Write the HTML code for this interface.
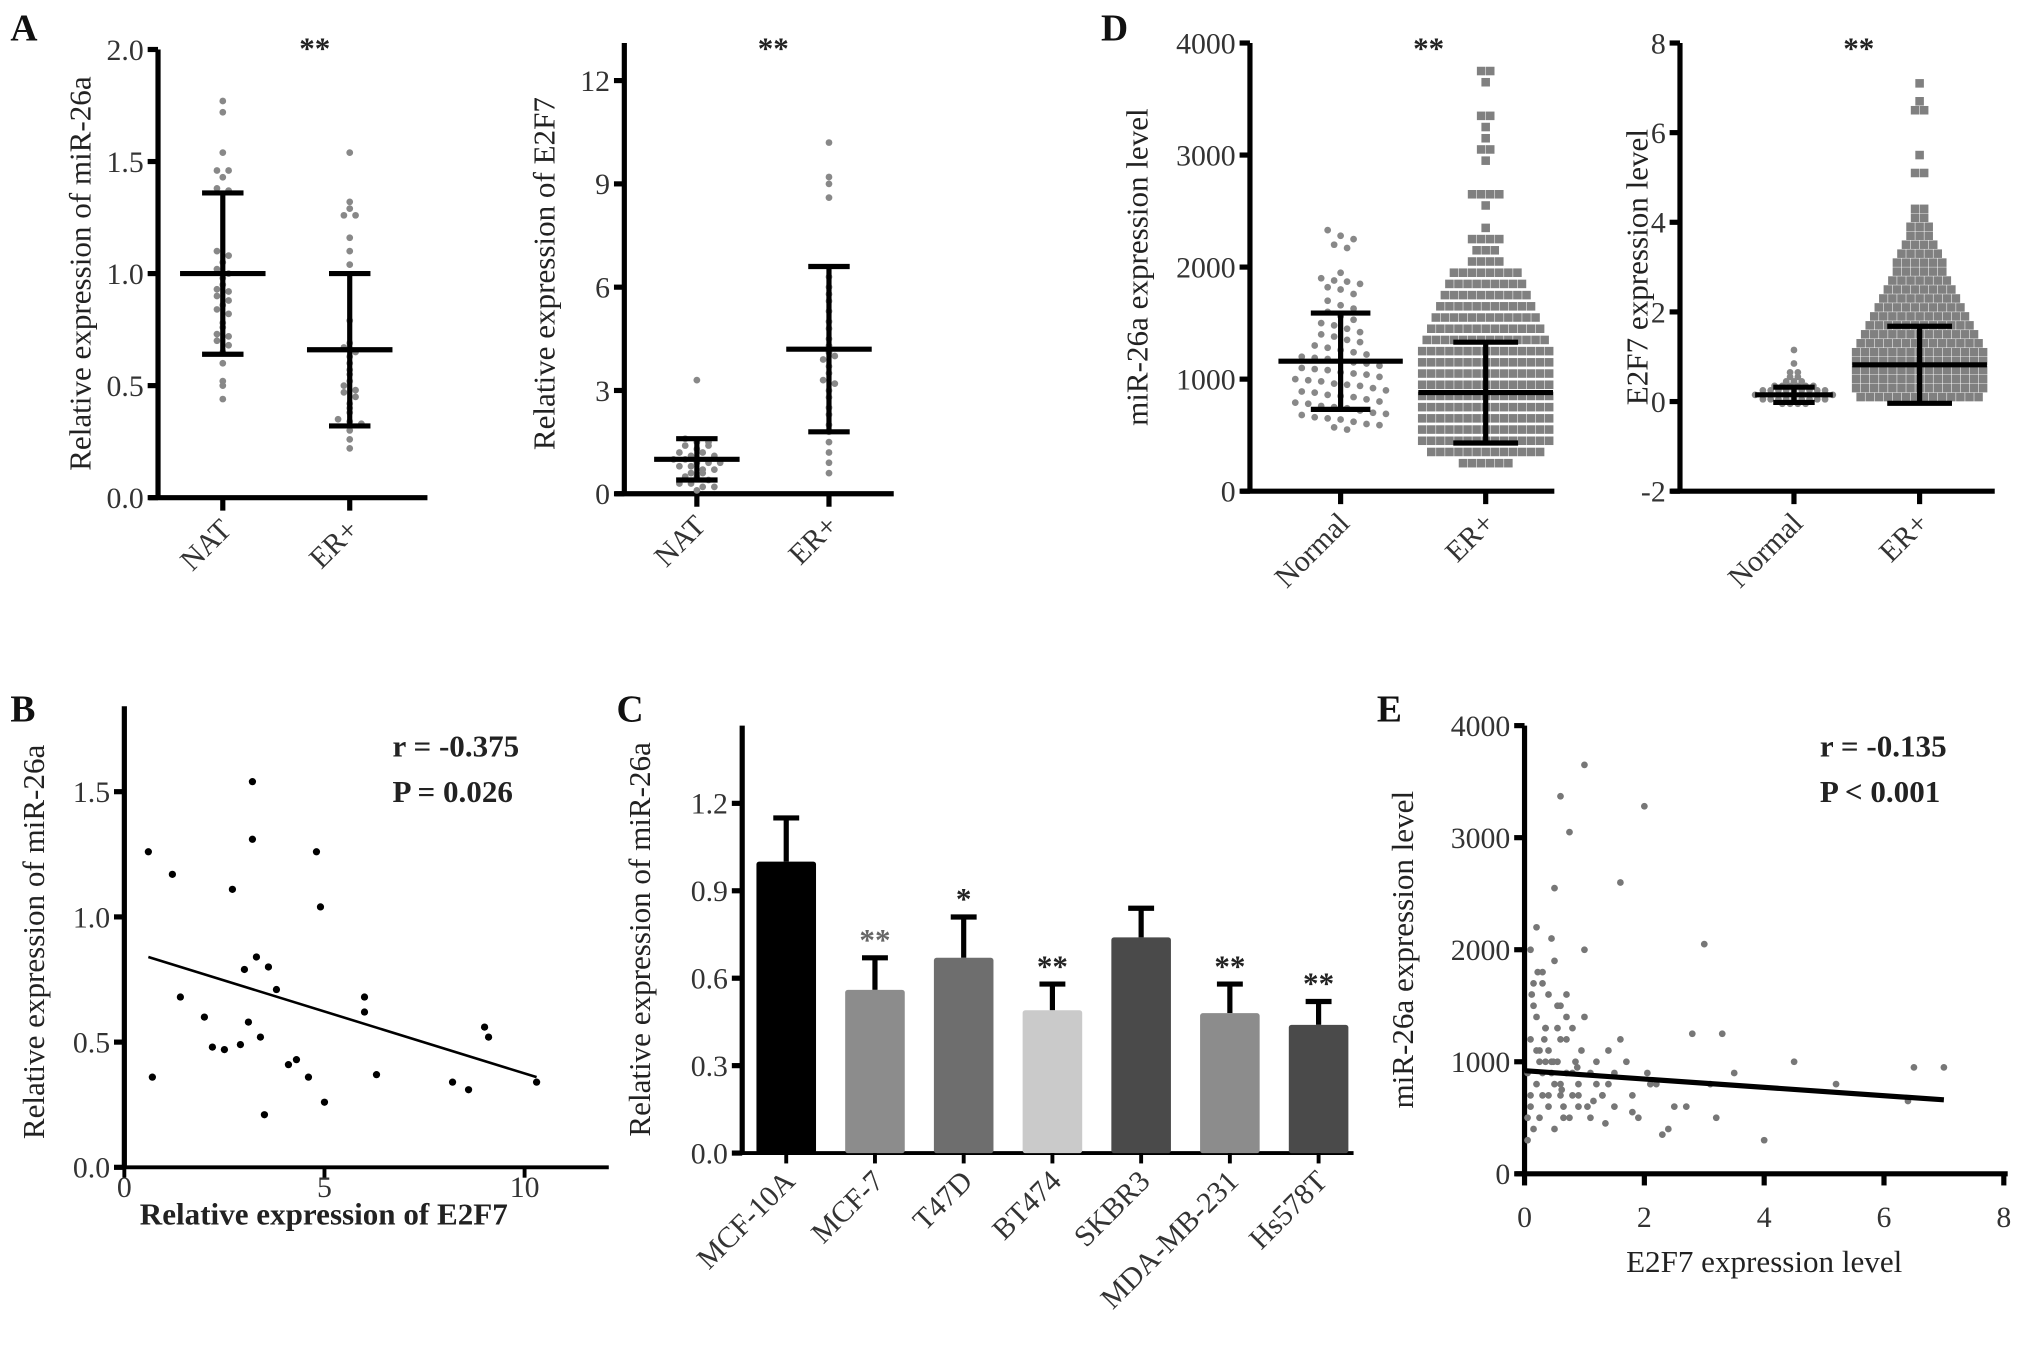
<!DOCTYPE html>
<html><head><meta charset="utf-8"><style>
html,body{margin:0;padding:0;background:#fff;}
svg{display:block;font-family:"Liberation Serif",serif;}
</style></head><body>
<svg id="fig" width="2031" height="1358" viewBox="0 0 1568 1048" xmlns="http://www.w3.org/2000/svg"></svg>
<script>
// ---------- DATA ----------
const a1Categories=["NAT","ER+"];
const a1Nat=[1.77,1.72,1.54,1.46,1.46,1.43,1.38,1.37,1.1,1.08,1.05,1.02,1.0,0.98,0.95,0.93,0.92,0.9,0.88,0.86,0.84,0.82,0.78,0.76,0.73,0.72,0.7,0.68,0.65,0.6,0.52,0.5,0.44];
const a1Er=[1.54,1.32,1.29,1.26,1.26,1.16,1.1,1.04,0.79,0.69,0.67,0.65,0.63,0.6,0.57,0.55,0.52,0.5,0.48,0.47,0.45,0.42,0.4,0.38,0.35,0.34,0.33,0.3,0.26,0.22];
const a1Mean=[1.0,0.66];
const a1Sd=[0.36,0.34];
const a1Ticks=["0.0","0.5","1.0","1.5","2.0"];
const a2Nat=[3.3,1.6,1.5,1.4,1.3,1.2,1.1,1.0,1.0,0.9,0.9,0.8,0.8,0.7,0.6,0.5,0.5,0.4,0.3,0.3,0.2,0.1,1.2,1.4,0.6,0.2,0.9,1.1,1.5,0.7];
const a2Er=[10.2,9.2,9.0,8.6,6.3,6.0,5.6,5.3,5.0,4.8,4.5,4.3,4.1,3.9,3.7,3.5,3.3,3.0,2.8,2.5,2.3,2.0,1.8,1.5,1.2,0.9,0.6,4.0,3.2,5.8];
const a2Mean=[1.0,4.2];
const a2Sd=[0.6,2.4];
const a2Ticks=["0","3","6","9","12"];
const dCategories=["Normal","ER+"];
const d1Normal=[2330,2280,2250,2200,2170,1950,1900,1880,1870,1850,1820,1800,1760,1700,1660,1630,1600,1560,1530,1500,1480,1450,1420,1400,1380,1350,1330,1300,1280,1260,1240,1220,1200,1190,1180,1160,1150,1140,1120,1100,1090,1080,1060,1050,1040,1020,1000,990,980,960,950,940,920,900,890,880,860,850,840,820,800,790,780,760,750,740,720,700,690,680,660,650,640,620,600,590,570,550];
const d1ErBins=[200,300,400,500,600,700,800,900,1000,1100,1200,1300,1400,1500,1600,1700,1800,1900,2000,2100,2200,2300,2500,2600,2900,3000,3100,3200,3300,3600,3700];
const d1ErCounts=[6,13,15,15,15,15,15,15,15,15,15,14,13,12,11,10,9,8,4,3,4,1,1,4,1,2,1,1,2,1,2];
const d1Mean=[1160,880];
const d1Sd=[430,450];
const d1Ticks=["0","1000","2000","3000","4000"];
const d2NormalBins=[-0.1,0,0.1,0.2,0.3,0.4,0.5,0.6,0.8,1.1];
const d2NormalCounts=[4,9,11,9,6,3,2,2,1,1];
const d2ErBins=[0,0.2,0.4,0.6,0.8,1.0,1.2,1.4,1.6,1.8,2.0,2.2,2.4,2.6,2.8,3.0,3.2,3.4,3.6,3.8,4.0,4.2,5.0,5.4,6.4,6.6,7.0];
const d2ErCounts=[14,15,15,15,15,15,14,13,12,11,10,9,8,7,6,6,5,4,3,3,2,2,2,1,2,1,1];
const d2Mean=[0.15,0.82];
const d2Sd=[0.17,0.86];
const d2Ticks=["-2","0","2","4","6","8"];
const bX=[0.6,0.7,1.2,1.4,2.0,2.2,2.5,2.7,2.9,3.0,3.1,3.2,3.2,3.3,3.4,3.5,3.6,3.8,4.1,4.3,4.6,4.8,4.9,5.0,6.0,6.0,6.3,8.2,8.6,9.0,9.1,10.3];
const bY=[1.26,0.36,1.17,0.68,0.6,0.48,0.47,1.11,0.49,0.79,0.58,1.54,1.31,0.84,0.52,0.21,0.8,0.71,0.41,0.43,0.36,1.26,1.04,0.26,0.68,0.62,0.37,0.34,0.31,0.56,0.52,0.34];
const bLine=[0.6,0.84,10.3,0.36];
const bTicksY=["0.0","0.5","1.0","1.5"];
const bTicksX=["0","5","10"];
const cCategories=["MCF-10A","MCF-7","T47D","BT474","SKBR3","MDA-MB-231","Hs578T"];
const cValues=[1.0,0.56,0.67,0.49,0.74,0.48,0.44];
const cErr=[0.15,0.11,0.14,0.09,0.1,0.1,0.08];
const cStars=["","**","*","**","","**","**"];
const cColors=["#000","#8c8c8c","#6e6e6e","#cacaca","#4a4a4a","#8c8c8c","#4a4a4a"];
const cTicks=["0.0","0.3","0.6","0.9","1.2"];
const eX=[0.05,0.1,0.1,0.15,0.2,0.2,0.25,0.3,0.3,0.35,0.4,0.4,0.45,0.5,0.5,0.55,0.6,0.6,0.65,0.7,0.7,0.75,0.8,0.85,0.9,0.95,1.0,1.05,1.1,1.2,1.3,1.4,1.5,1.6,1.8,2.0,2.2,2.5,2.8,3.0,3.3,3.5,4.0,4.5,5.2,6.4,6.5,7.0,
0.05,0.1,0.15,0.2,0.25,0.3,0.35,0.4,0.45,0.5,0.55,0.6,0.65,0.7,0.8,0.9,1.0,1.1,1.2,1.3,1.5,1.7,1.9,2.1,2.4,2.7,3.1,3.2,0.5,0.6,0.7,1.0,0.3,0.2,0.1,0.4,0.45,0.6,0.8,1.6,2.05,0.25,0.15,0.35,0.55,0.9,1.4,0.75,0.05,0.12,0.22,0.33,0.48,0.62,0.88,1.15,1.35,1.8,2.3];
const eY=[900,1200,600,1500,800,2200,1000,700,1700,1300,600,1100,900,800,2550,1000,3370,1200,600,1400,900,3050,700,1000,800,1100,3650,600,900,1000,700,800,900,1200,700,3280,800,600,1250,2050,1250,900,300,1000,800,650,950,950,
500,700,400,1100,500,900,1300,700,1000,400,1500,800,500,1200,900,600,1400,500,800,700,600,1000,500,800,400,600,800,500,1900,700,1600,2000,1800,1400,2000,1600,2100,1500,1300,2600,900,1100,1700,1000,1300,700,1100,500,300,1600,1800,1200,1000,750,950,650,450,550,350];
const eLine=[0,920,7,660];
const eTicksY=["0","1000","2000","3000","4000"];
const eTicksX=["0","2","4","6","8"];

// ---------- HELPERS ----------
const NS="http://www.w3.org/2000/svg";
const svg=document.getElementById('fig');
const TF=23, LF=24;
function el(tag,attrs,parent,text){const e=document.createElementNS(NS,tag);for(const k in attrs)e.setAttribute(k,attrs[k]);if(text!==undefined)e.textContent=text;(parent||svg).appendChild(e);return e;}
function lin(d0,d1,r0,r1){return v=>r0+(v-d0)*(r1-r0)/(d1-d0);}
function group(name){const g=el('g',{});return g;}
function line(g,x1,y1,x2,y2,w,name,c){const l=el('line',{x1,y1,x2,y2,stroke:c||'#000','stroke-width':w},g);return l;}
function text(g,x,y,s,opts,name){const t=el('text',Object.assign({x,y,'font-size':TF,fill:'#222'},opts||{}),g,s);return t;}
function yAxis(g,x,yTop,yBot,ticks,scale,vals){line(g,x,yTop,x,yBot,4,'y-axis-line');
 ticks.forEach((t,i)=>{const y=scale(vals[i]);line(g,x-8,y,x,y,4,'y-tick');text(g,x-11,y+8,t,{'text-anchor':'end','font-size':TF,fill:'#333'},'y-tick-label');});}
function ylabel(g,x,y,s,bold){text(g,x,y,s,{transform:`rotate(-90 ${x} ${y})`,'text-anchor':'middle','font-size':LF,'font-weight':bold?'bold':'normal'},'y-axis-title');}
function rotLabel(g,x,y,s){text(g,x,y,s,{transform:`rotate(-45 ${x} ${y})`,'text-anchor':'end','font-size':TF,fill:'#333'},'x-tick-label');}
function swarm(g,vals,cx,ys,bin,dx,r,color,square){const bins={};vals.forEach(v=>{const k=Math.round(ys(v)/bin);(bins[k]=bins[k]||[]).push(v);});
 Object.keys(bins).forEach(k=>{const a=bins[k];a.forEach((v,j)=>{const x=cx+(j-(a.length-1)/2)*dx;const y=ys(v);
  const p=square?el('rect',{x:x-r,y:y-r,width:2*r,height:2*r,fill:color},g):el('circle',{cx:x,cy:y,r,fill:color},g);
  });});}
function histSwarm(g,bins,counts,binW,cx,ys,dx,r,color,square){bins.forEach((b,i)=>{const y=ys(b+binW/2);for(let j=0;j<counts[i];j++){const x=cx+(j-(counts[i]-1)/2)*dx;
  const p=square?el('rect',{x:x-r,y:y-r,width:2*r,height:2*r,fill:color},g):el('circle',{cx:x,cy:y,r,fill:color},g);
  }});}
function errbar(g,cx,ys,m,s,hw,cw){line(g,cx-hw,ys(m),cx+hw,ys(m),4,'mean-line');line(g,cx,ys(m-s),cx,ys(m+s),4,'sd-line');line(g,cx-cw,ys(m+s),cx+cw,ys(m+s),4,'sd-cap');line(g,cx-cw,ys(m-s),cx+cw,ys(m-s),4,'sd-cap');}
function panelLetter(x,y,s){const t=el('text',{x,y,'font-size':29,'font-weight':'bold',fill:'#111'},svg,s);}

// ---------- PANEL A1 ----------
panelLetter(8,31,"A");
{const g=group('panel-a-mir26a');const ys=lin(0,2,384,38);
 yAxis(g,122,38,384,a1Ticks,ys,[0,0.5,1,1.5,2]);line(g,115,384,330,384,4,'x-axis-line');
 const xs=[172,270];xs.forEach((x,i)=>{line(g,x,384,x,394,4,'x-tick');rotLabel(g,x+8,410,a1Categories[i]);});
 swarm(g,a1Nat,172,ys,5,9,2.6,'#888');swarm(g,a1Er,270,ys,5,9,2.6,'#888');
 xs.forEach((x,i)=>errbar(g,x,ys,a1Mean[i],a1Sd[i],33,16));
 text(g,243,45,"**",{'font-size':24,'font-weight':'bold','text-anchor':'middle'},'significance-star');
 ylabel(g,70,211,"Relative expression of miR-26a");}
// ---------- PANEL A2 ----------
{const g=group('panel-a-e2f7');const ys=lin(0,12,381,62);
 yAxis(g,482,33,381,a2Ticks,ys,[0,3,6,9,12]);line(g,475,381,690,381,4,'x-axis-line');
 const xs=[538,640];xs.forEach((x,i)=>{line(g,x,381,x,391,4,'x-tick');rotLabel(g,x+8,407,a1Categories[i]);});
 swarm(g,a2Nat,538,ys,5,9,2.6,'#888');swarm(g,a2Er,640,ys,5,9,2.6,'#888');
 xs.forEach((x,i)=>errbar(g,x,ys,a2Mean[i],a2Sd[i],33,16));
 text(g,597,45,"**",{'font-size':24,'font-weight':'bold','text-anchor':'middle'},'significance-star');
 ylabel(g,428,211,"Relative expression of E2F7");}
// ---------- PANEL D1 ----------
panelLetter(850,31,"D");
{const g=group('panel-d-mir26a');const ys=lin(0,4000,379,33);
 yAxis(g,965,33,379,d1Ticks,ys,[0,1000,2000,3000,4000]);line(g,958,379,1200,379,4,'x-axis-line');
 const xs=[1035,1147];xs.forEach((x,i)=>{line(g,x,379,x,389,4,'x-tick');rotLabel(g,x+8,405,dCategories[i]);});
 swarm(g,d1Normal,1035,ys,9,10,2.6,'#888');histSwarm(g,d1ErBins,d1ErCounts,100,1147,ys,7,3.3,'#808080',true);
 xs.forEach((x,i)=>errbar(g,x,ys,d1Mean[i],d1Sd[i],i?52:48,i?25:23));
 text(g,1103,45,"**",{'font-size':24,'font-weight':'bold','text-anchor':'middle'},'significance-star');
 ylabel(g,886,206,"miR-26a expression level");}
// ---------- PANEL D2 ----------
{const g=group('panel-d-e2f7');const ys=lin(-2,8,379,33);
 yAxis(g,1297,33,379,d2Ticks,ys,[-2,0,2,4,6,8]);line(g,1290,379,1540,379,4,'x-axis-line');
 const xs=[1385,1482];xs.forEach((x,i)=>{line(g,x,379,x,389,4,'x-tick');rotLabel(g,x+8,405,dCategories[i]);});
 histSwarm(g,d2NormalBins,d2NormalCounts,0.1,1385,ys,6,2.6,'#888');histSwarm(g,d2ErBins,d2ErCounts,0.2,1482,ys,7,3.3,'#808080',true);
 xs.forEach((x,i)=>errbar(g,x,ys,d2Mean[i],d2Sd[i],i?52:30,i?25:16));
 text(g,1435,45,"**",{'font-size':24,'font-weight':'bold','text-anchor':'middle'},'significance-star');
 ylabel(g,1272,206,"E2F7 expression level");}
// ---------- PANEL B ----------
panelLetter(8,557,"B");
{const g=group('panel-b-correlation');const ys=lin(0,1.5,901,611);const xs=lin(0,10,96,405);
 yAxis(g,96,545,901,bTicksY,ys,[0,0.5,1,1.5]);line(g,94,901,470,901,3,'x-axis-line');
 bTicksX.forEach((t,i)=>{const x=xs([0,5,10][i]);line(g,x,901,x,909,3,'x-tick');text(g,x,924,t,{'text-anchor':'middle','font-size':TF,fill:'#333'},'x-tick-label');});
 bX.forEach((v,i)=>{const c=el('circle',{cx:xs(v),cy:ys(bY[i]),r:2.8,fill:'#000'},g);});
 line(g,xs(bLine[0]),ys(bLine[1]),xs(bLine[2]),ys(bLine[3]),2,'regression-line');
 text(g,303,584,"r = -0.375",{'font-size':24,'font-weight':'bold'},'r-value');
 text(g,303,619,"P = 0.026",{'font-size':24,'font-weight':'bold'},'p-value');
 text(g,250,945,"Relative expression of E2F7",{'font-size':24,'font-weight':'bold','text-anchor':'middle'},'x-axis-title');
 ylabel(g,34,727,"Relative expression of miR-26a");}
// ---------- PANEL C ----------
panelLetter(476,557,"C");
{const g=group('panel-c-bars');const ys=lin(0,1.2,890,620);
 yAxis(g,573,560,890,cTicks,ys,[0,0.3,0.6,0.9,1.2]);line(g,571,890,1045,890,3,'x-axis-line');
 const x0=607,step=68.5;
 cCategories.forEach((c,i)=>{const x=x0+i*step;
  line(g,x,ys(cValues[i]),x,ys(cValues[i]+cErr[i]),4,'error-bar');line(g,x-10,ys(cValues[i]+cErr[i]),x+10,ys(cValues[i]+cErr[i]),4,'error-cap');
  const r=el('rect',{x:x-23,y:ys(cValues[i]),width:46,height:890-ys(cValues[i]),fill:cColors[i],rx:2},g);
  if(cStars[i])text(g,x,ys(cValues[i]+cErr[i])-6,cStars[i],{'font-size':24,'font-weight':'bold','text-anchor':'middle',fill:i==1?'#666':'#222'},'significance-star');
  line(g,x,890,x,898,3,'x-tick');rotLabel(g,x+8,913,c);});
 ylabel(g,502,725,"Relative expression of miR-26a");}
// ---------- PANEL E ----------
panelLetter(1063,557,"E");
{const g=group('panel-e-correlation');const ys=lin(0,4000,906,560);const xs=lin(0,8,1177,1547);
 yAxis(g,1177,560,906,eTicksY,ys,[0,1000,2000,3000,4000]);line(g,1170,906,1550,906,4,'x-axis-line');
 eTicksX.forEach((t,i)=>{const x=xs([0,2,4,6,8][i]);line(g,x,906,x,915,4,'x-tick');text(g,x,947,t,{'text-anchor':'middle','font-size':TF,fill:'#333'},'x-tick-label');});
 eX.forEach((v,i)=>{const c=el('circle',{cx:xs(v),cy:ys(eY[i]),r:2.6,fill:'#777'},g);});
 line(g,xs(eLine[0]),ys(eLine[1]),xs(eLine[2]),ys(eLine[3]),4,'regression-line');
 text(g,1405,584,"r = -0.135",{'font-size':24,'font-weight':'bold'},'r-value');
 text(g,1405,619,"P < 0.001",{'font-size':24,'font-weight':'bold'},'p-value');
 text(g,1362,982,"E2F7 expression level",{'font-size':LF,'text-anchor':'middle'},'x-axis-title');
 ylabel(g,1091,733,"miR-26a expression level");}
</script>
</body></html>
